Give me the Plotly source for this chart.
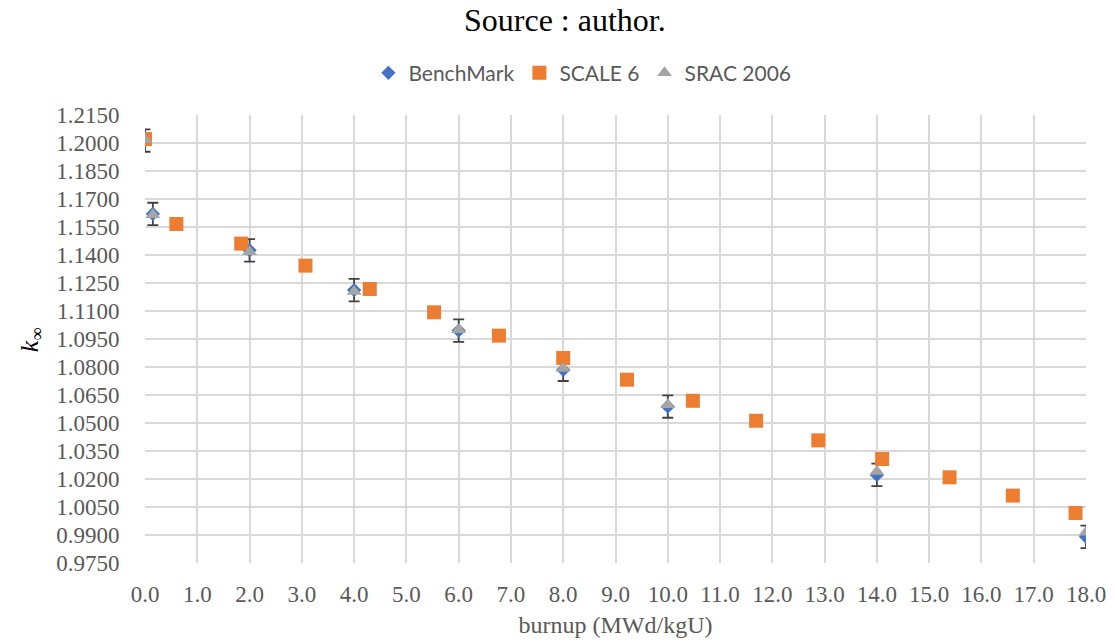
import plotly.graph_objects as go

# ---- data ----
bench_x = [0.0, 0.15, 2.0, 4.0, 6.0, 8.0, 10.0, 14.0, 18.0]
bench_y = [1.2013, 1.1620, 1.1425, 1.1212, 1.0995, 1.0785, 1.0588, 1.0222, 0.9890]
bench_err = [0.006, 0.006, 0.006, 0.006, 0.006, 0.006, 0.006, 0.006, 0.006]

scale_x = [0.0, 0.6, 1.84, 3.07, 4.3, 5.53, 6.77, 8.0, 9.22, 10.48, 11.69, 12.88, 14.1, 15.39, 16.6, 17.8]
scale_y = [1.2021, 1.1566, 1.1461, 1.1343, 1.1218, 1.1093, 1.0968, 1.0848, 1.0732, 1.0619,
           1.0512, 1.0407, 1.0307, 1.0209, 1.0111, 1.0018]

srac_x = [0.0, 0.15, 2.0, 4.0, 6.0, 8.0, 10.0, 14.0, 18.0]
srac_y = [1.2017, 1.1615, 1.1417, 1.1205, 1.1000, 1.0792, 1.0598, 1.0240, 0.9915]

series_names = ["BenchMark", "SCALE 6", "SRAC 2006"]

W, H = 1115, 644
L, R, T, B = 144.5, 1086, 115.3, 563.3
SERIF = "Liberation Serif, Times New Roman, serif"


def px(xp):
    return (xp - L) / (R - L)


def py(yp):
    return (B - yp) / (B - T)


fig = go.Figure()
fig.add_trace(go.Scatter(
    x=bench_x, y=bench_y, mode="markers", name=series_names[0],
    marker=dict(symbol="diamond", size=11, color="#4472C4"),
    error_y=dict(type="data", array=bench_err, visible=True,
                 color="#404040", thickness=1.8, width=5.5),
))
fig.add_trace(go.Scatter(
    x=scale_x, y=scale_y, mode="markers", name=series_names[1],
    marker=dict(symbol="square", size=14, color="#ED7D31"),
))
fig.add_trace(go.Scatter(
    x=srac_x, y=srac_y, mode="markers", name=series_names[2],
    marker=dict(symbol="triangle-up", size=13, color="#A5A5A5"),
))

fig.update_layout(
    width=W, height=H,
    margin=dict(l=L, r=W - R, t=T, b=H - B, pad=0, autoexpand=False),
    paper_bgcolor="white", plot_bgcolor="white",
    font=dict(family=SERIF, size=23, color="#595959"),
    showlegend=True,
    legend=dict(orientation="h", xref="paper", yref="paper",
                x=px(368), xanchor="left", y=py(53), yanchor="top",
                font=dict(family="Lato, Open Sans, sans-serif", size=21, color="#595959"),
                bgcolor="rgba(0,0,0,0)"),
    xaxis=dict(range=[0, 18], dtick=1, tick0=0, tickformat=".1f",
               showgrid=True, gridcolor="#D9D9D9", gridwidth=1.6,
               zeroline=False, showline=False, automargin=False,
               ticks="outside", ticklen=10, tickcolor="rgba(0,0,0,0)",
               tickfont=dict(family=SERIF, size=23, color="#595959"),
               title=dict(text="burnup (MWd/kgU)", font=dict(family=SERIF, size=24, color="#595959"),
                          standoff=10)),
    yaxis=dict(range=[0.975, 1.215], dtick=0.015, tick0=0.975, tickformat=".4f",
               showgrid=True, gridcolor="#D9D9D9", gridwidth=1.6,
               zeroline=False, showline=False, automargin=False,
               ticks="outside", ticklen=20, tickcolor="rgba(0,0,0,0)",
               tickfont=dict(family=SERIF, size=23, color="#595959")),
    annotations=[
        dict(text="Source : author.", xref="paper", yref="paper",
             x=px(565), y=py(20), xanchor="center", yanchor="middle", showarrow=False,
             font=dict(family=SERIF, size=32, color="black")),
        dict(text="<i>k</i><sub>∞</sub>", xref="paper", yref="paper",
             x=px(30), y=py(340), xanchor="center", yanchor="middle", showarrow=False,
             textangle=-90,
             font=dict(family=SERIF, size=26, color="black")),
    ],
)

fig.write_html("out.html")
